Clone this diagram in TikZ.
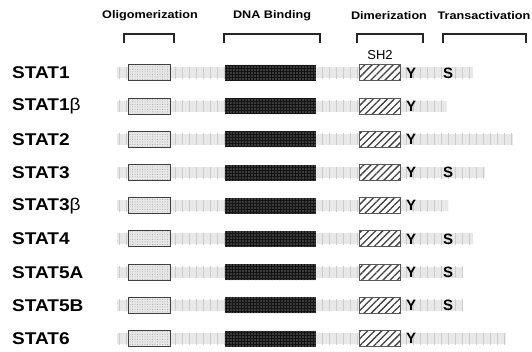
\documentclass[tikz,border=0pt]{standalone}
\usepackage{fontspec}
\setmainfont{Liberation Sans}
\usetikzlibrary{patterns.meta}
\begin{document}
\begin{tikzpicture}[x=1pt,y=-1pt,
  hdr/.style={font=\bfseries\fontsize{11}{12}\selectfont, inner sep=0},
  bracket/.style={line width=2pt, black!85},
  statlab/.style={font=\bfseries\fontsize{17}{18}\selectfont, inner sep=0, anchor=west},
  backbone/.style={rectangle, inner sep=0, minimum height=11pt, anchor=west,
     preaction={fill=gray!18}, pattern={Lines[angle=90,distance=7pt,line width=0.7pt]}, pattern color=gray!40},
  oligo/.style={rectangle, inner sep=0, minimum width=42pt, minimum height=16pt,
     preaction={fill=gray!18}, pattern={Dots[radius=0.5pt,distance=2.5pt]}, pattern color=gray!70,
     draw=black!75, line width=1pt},
  dna/.style={rectangle, inner sep=0, minimum width=91pt, minimum height=16pt,
     preaction={fill=black!92}, pattern={Dots[radius=0.55pt,distance=3pt]}, pattern color=gray!55},
  sh/.style={rectangle, inner sep=0, minimum width=41pt, minimum height=16pt,
     preaction={fill=white}, pattern={Lines[angle=45,distance=5pt,line width=1.3pt]}, pattern color=black!75,
     draw=black!65, line width=1pt},
  res/.style={font=\bfseries\fontsize{15}{16}\selectfont, inner sep=0},
]
\useasboundingbox (0,0) rectangle (532,352);
\fill[white] (0,0) rectangle (532,352);

% headers
\node[hdr] (hOl) at (150,16) {\scalebox{1.15}[1]{Oligomerization}};
\node[hdr] (hDNA) at (272,16) {\scalebox{1.15}[1]{DNA Binding}};
\node[hdr] (hDim) at (389,16) {\scalebox{1.15}[1]{Dimerization}};
\node[hdr] (hTr) at (484,16) {\scalebox{1.15}[1]{Transactivation}};

% brackets
\draw[bracket] (124,43) -- (124,34) -- (174,34) -- (174,43);
\draw[bracket] (224,43) -- (224,34) -- (320,34) -- (320,43);
\draw[bracket] (357,43) -- (357,34) -- (423,34) -- (423,43);
\draw[bracket] (443,43) -- (443,34) -- (526,34) -- (526,43);

\node[font=\fontsize{13}{14}\selectfont, inner sep=0] (sh2) at (380,55) {SH2};

\foreach \i/\lab/\e/\s in {0/STAT1/473/1, 1/STAT1{\mdseries β}/447/0, 2/STAT2/513/0,
   3/STAT3/485/1, 4/STAT3{\mdseries β}/448/0, 5/STAT4/473/1, 6/STAT5A/463/1,
   7/STAT5B/463/1, 8/STAT6/506/0}{
  \pgfmathsetmacro{\c}{73+33.2*\i}
  \pgfmathsetmacro{\w}{\e-117}
  \node[statlab] (lab\i) at (12,\c) {\scalebox{1.12}[1]{\lab}};
  \node[backbone, minimum width=\w pt] (bb\i) at (117,\c) {};
  \node[oligo] (ol\i) at (149,\c) {};
  \node[dna] (dna\i) at (270.5,\c) {};
  \node[sh] (sh\i) at (379.5,\c) {};
  \node[res] (y\i) at (411,\c) {Y};
  \ifnum\s=1
    \node[res] (s\i) at (448,\c) {S};
  \fi
}
\end{tikzpicture}
\end{document}
